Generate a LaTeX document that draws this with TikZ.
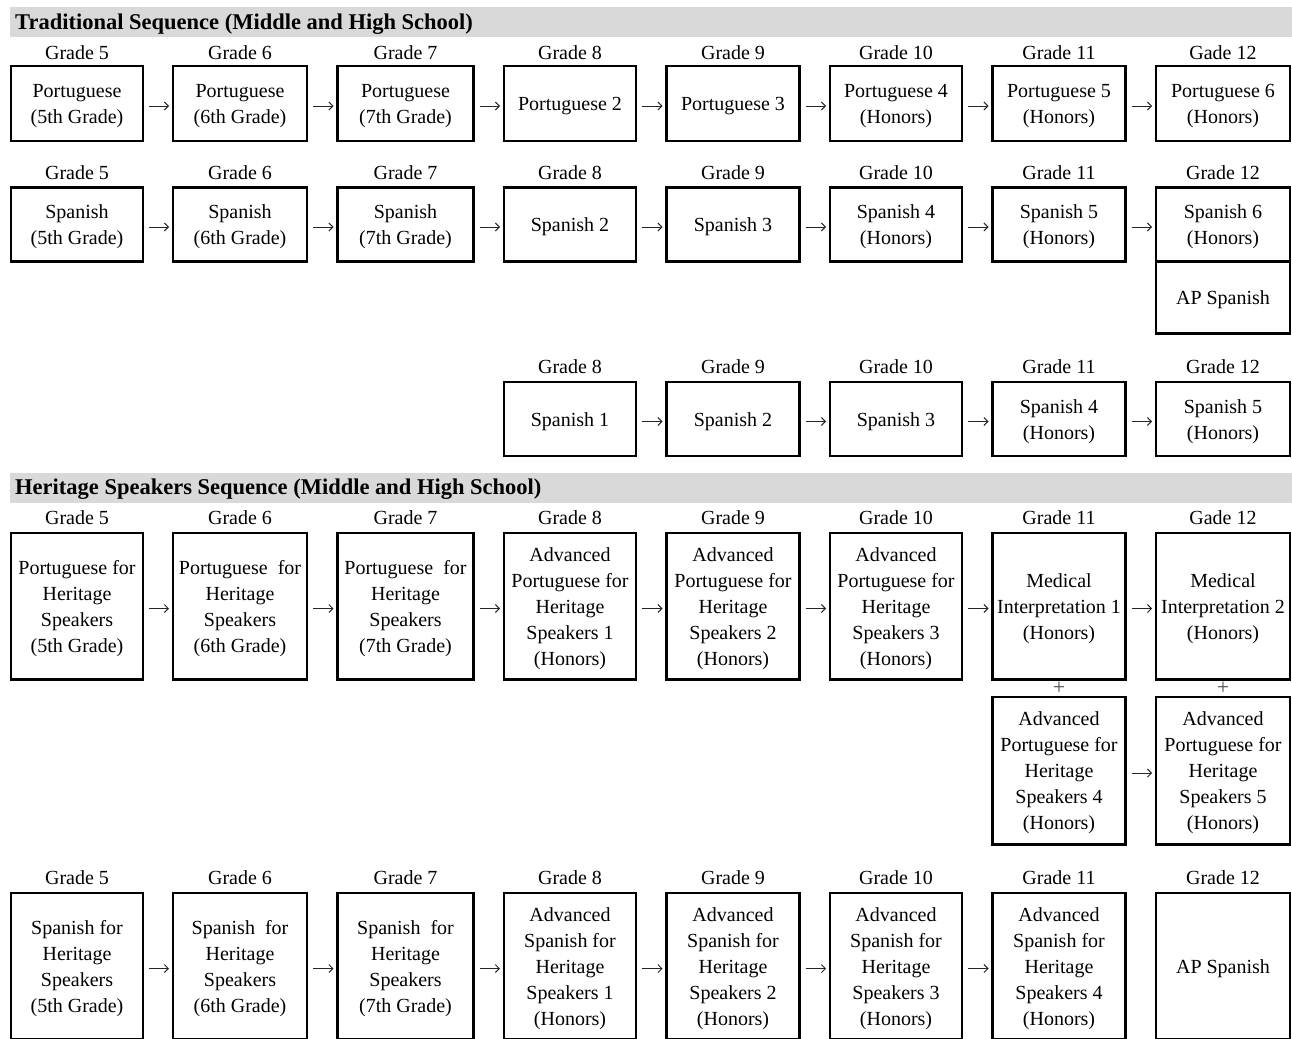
\documentclass[tikz,border=0pt]{standalone}
\usepackage{fontspec}
\setmainfont{Liberation Serif}
\usetikzlibrary{arrows.meta}
\definecolor{hdrgray}{HTML}{D9D9D9}
\newcommand\cbox[6]{\node[box,minimum width=#4pt,minimum height=#5pt] (#1) at (#2,#3) {};
  \node[boxtext] (#1t) at ([yshift=-2.5pt]#1.center) {#6};}
\begin{document}
\begin{tikzpicture}[x=1pt,y=-1pt,
  box/.style={draw, line width=2.4pt, inner sep=0pt, outer sep=0pt},
  boxtext/.style={align=center, inner sep=0pt, font=\fontsize{20}{26}\selectfont},
  grade/.style={font=\fontsize{20}{24}\selectfont, inner sep=0pt},
  hdr/.style={font=\fontsize{22.5}{26}\selectfont\bfseries, inner sep=0pt, anchor=west},
  plussign/.style={font=\fontsize{22}{22}\selectfont, text=black!70, inner sep=0pt},
  arr/.style={-{Straight Barb[length=4pt,width=8pt]}, line width=0.9pt, draw=black!85,
    shorten <=6pt, shorten >=4pt}]
\useasboundingbox (0,0) rectangle (1292,1038);
\clip (0,0) rectangle (1292,1038);
% header bars
\fill[hdrgray] (10,7.5) rectangle (1292,37.5);
\node[hdr] (hd1) at (15,24.5) {Traditional Sequence (Middle and High School)};
\fill[hdrgray] (10,472.5) rectangle (1292,502.5);
\node[hdr] (hd2) at (15,489) {Heritage Speakers Sequence (Middle and High School)};

% ---- Row 1: Portuguese traditional
\node[grade] (gt1) at (77,53) {Grade 5};
\node[grade] (gt2) at (240,53) {Grade 6};
\node[grade] (gt3) at (405.5,53) {Grade 7};
\node[grade] (gt4) at (570,53) {Grade 8};
\node[grade] (gt5) at (733,53) {Grade 9};
\node[grade] (gt6) at (896,53) {Grade 10};
\node[grade] (gt7) at (1059,53) {Grade 11};
\node[grade] (gt8) at (1223,53) {Gade 12};
\cbox{t1}{77}{103.5}{132}{74.5}{Portuguese\\(5th Grade)}
\cbox{t2}{240}{103.5}{134}{74.5}{Portuguese\\(6th Grade)}
\cbox{t3}{405.5}{103.5}{136}{74.5}{Portuguese\\(7th Grade)}
\cbox{t4}{570}{103.5}{132}{74.5}{Portuguese 2}
\cbox{t5}{733}{103.5}{133}{74.5}{Portuguese 3}
\cbox{t6}{896}{103.5}{132}{74.5}{Portuguese 4\\(Honors)}
\cbox{t7}{1059}{103.5}{133}{74.5}{Portuguese 5\\(Honors)}
\cbox{t8}{1223}{103.5}{134}{74.5}{Portuguese 6\\(Honors)}
\foreach \a/\b in {t1/t2,t2/t3,t3/t4,t4/t5,t5/t6,t6/t7,t7/t8}
  \draw[arr] ([yshift=-2.5pt]\a.east) -- ([yshift=-2.5pt]\b.west);

% ---- Row 2: Spanish traditional
\node[grade] (gs1) at (77,173) {Grade 5};
\node[grade] (gs2) at (240,173) {Grade 6};
\node[grade] (gs3) at (405.5,173) {Grade 7};
\node[grade] (gs4) at (570,173) {Grade 8};
\node[grade] (gs5) at (733,173) {Grade 9};
\node[grade] (gs6) at (896,173) {Grade 10};
\node[grade] (gs7) at (1059,173) {Grade 11};
\node[grade] (gs8) at (1223,173) {Grade 12};
\cbox{s1}{77}{224.5}{132}{74}{Spanish\\(5th Grade)}
\cbox{s2}{240}{224.5}{134}{74}{Spanish\\(6th Grade)}
\cbox{s3}{405.5}{224.5}{136}{74}{Spanish\\(7th Grade)}
\cbox{s4}{570}{224.5}{132}{74}{Spanish 2}
\cbox{s5}{733}{224.5}{133}{74}{Spanish 3}
\cbox{s6}{896}{224.5}{132}{74}{Spanish 4\\(Honors)}
\cbox{s7}{1059}{224.5}{133}{74}{Spanish 5\\(Honors)}
\cbox{s8}{1223}{224.5}{134}{74}{Spanish 6\\(Honors)}
\cbox{sap}{1223}{297.5}{134}{72}{AP Spanish}
\foreach \a/\b in {s1/s2,s2/s3,s3/s4,s4/s5,s5/s6,s6/s7,s7/s8}
  \draw[arr] ([yshift=-2.5pt]\a.east) -- ([yshift=-2.5pt]\b.west);

% ---- Row 3: Spanish starting grade 8
\node[grade] (gu4) at (570,367) {Grade 8};
\node[grade] (gu5) at (733,367) {Grade 9};
\node[grade] (gu6) at (896,367) {Grade 10};
\node[grade] (gu7) at (1059,367) {Grade 11};
\node[grade] (gu8) at (1223,367) {Grade 12};
\cbox{u4}{570}{419}{132}{74}{Spanish 1}
\cbox{u5}{733}{419}{133}{74}{Spanish 2}
\cbox{u6}{896}{419}{132}{74}{Spanish 3}
\cbox{u7}{1059}{419}{133}{74}{Spanish 4\\(Honors)}
\cbox{u8}{1223}{419}{134}{74}{Spanish 5\\(Honors)}
\foreach \a/\b in {u4/u5,u5/u6,u6/u7,u7/u8}
  \draw[arr] ([yshift=-2.5pt]\a.east) -- ([yshift=-2.5pt]\b.west);

% ---- Heritage row 1: Portuguese
\node[grade] (gh1) at (77,518) {Grade 5};
\node[grade] (gh2) at (240,518) {Grade 6};
\node[grade] (gh3) at (405.5,518) {Grade 7};
\node[grade] (gh4) at (570,518) {Grade 8};
\node[grade] (gh5) at (733,518) {Grade 9};
\node[grade] (gh6) at (896,518) {Grade 10};
\node[grade] (gh7) at (1059,518) {Grade 11};
\node[grade] (gh8) at (1223,518) {Gade 12};
\cbox{h1}{77}{606}{132}{146.6}{Portuguese for\\Heritage\\Speakers\\(5th Grade)}
\cbox{h2}{240}{606}{134}{146.6}{Portuguese~ for\\Heritage\\Speakers\\(6th Grade)}
\cbox{h3}{405.5}{606}{136}{146.6}{Portuguese~ for\\Heritage\\Speakers\\(7th Grade)}
\cbox{h4}{570}{606}{132}{146.6}{Advanced\\Portuguese for\\Heritage\\Speakers 1\\(Honors)}
\cbox{h5}{733}{606}{133}{146.6}{Advanced\\Portuguese for\\Heritage\\Speakers 2\\(Honors)}
\cbox{h6}{896}{606}{132}{146.6}{Advanced\\Portuguese for\\Heritage\\Speakers 3\\(Honors)}
\cbox{h7}{1059}{606}{133}{146.6}{Medical\\Interpretation 1\\(Honors)}
\cbox{h8}{1223}{606}{134}{146.6}{Medical\\Interpretation 2\\(Honors)}
\foreach \a/\b in {h1/h2,h2/h3,h3/h4,h4/h5,h5/h6,h6/h7,h7/h8}
  \draw[arr] ([yshift=-2.5pt]\a.east) -- ([yshift=-2.5pt]\b.west);

% ---- Heritage row 2: concurrent Portuguese courses
\node[plussign] (pl7) at (1059,688) {+};
\node[plussign] (pl8) at (1223,688) {+};
\cbox{p7}{1059}{770.5}{133}{147.6}{Advanced\\Portuguese for\\Heritage\\Speakers 4\\(Honors)}
\cbox{p8}{1223}{770.5}{134}{147.6}{Advanced\\Portuguese for\\Heritage\\Speakers 5\\(Honors)}
\draw[arr] ([yshift=-2.5pt]p7.east) -- ([yshift=-2.5pt]p8.west);

% ---- Heritage row 3: Spanish
\node[grade] (gk1) at (77,878) {Grade 5};
\node[grade] (gk2) at (240,878) {Grade 6};
\node[grade] (gk3) at (405.5,878) {Grade 7};
\node[grade] (gk4) at (570,878) {Grade 8};
\node[grade] (gk5) at (733,878) {Grade 9};
\node[grade] (gk6) at (896,878) {Grade 10};
\node[grade] (gk7) at (1059,878) {Grade 11};
\node[grade] (gk8) at (1223,878) {Grade 12};
\cbox{k1}{77}{966}{132}{146.6}{Spanish for\\Heritage\\Speakers\\(5th Grade)}
\cbox{k2}{240}{966}{134}{146.6}{Spanish~ for\\Heritage\\Speakers\\(6th Grade)}
\cbox{k3}{405.5}{966}{136}{146.6}{Spanish~ for\\Heritage\\Speakers\\(7th Grade)}
\cbox{k4}{570}{966}{132}{146.6}{Advanced\\Spanish for\\Heritage\\Speakers 1\\(Honors)}
\cbox{k5}{733}{966}{133}{146.6}{Advanced\\Spanish for\\Heritage\\Speakers 2\\(Honors)}
\cbox{k6}{896}{966}{132}{146.6}{Advanced\\Spanish for\\Heritage\\Speakers 3\\(Honors)}
\cbox{k7}{1059}{966}{133}{146.6}{Advanced\\Spanish for\\Heritage\\Speakers 4\\(Honors)}
\cbox{k8}{1223}{966}{134}{146.6}{AP Spanish}
\foreach \a/\b in {k1/k2,k2/k3,k3/k4,k4/k5,k5/k6,k6/k7}
  \draw[arr] ([yshift=-2.5pt]\a.east) -- ([yshift=-2.5pt]\b.west);
\end{tikzpicture}
\end{document}
